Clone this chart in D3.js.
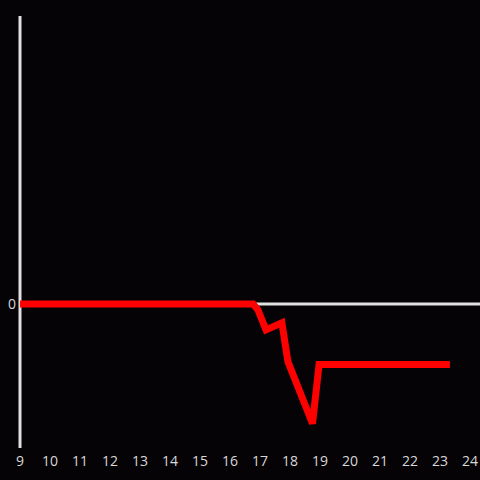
<!DOCTYPE html>
<html>
<head>
<meta charset="utf-8">
<script src="https://cdn.jsdelivr.net/npm/d3@7"></script>
<style>
  body { margin: 0; background: #050306; }
  svg { display: block; }
</style>
</head>
<body>
<div id="chart"></div>
<script>
// values
var xs = [9, 16.77, 16.93, 17.2, 17.73, 17.93, 18.75, 18.97, 23.33];
var ys = [0, 0, -0.04, -0.18, -0.13, -0.4, -0.83, -0.42, -0.42];
var xTicks = [9, 10, 11, 12, 13, 14, 15, 16, 17, 18, 19, 20, 21, 22, 23, 24];
var yTicks = [0];

var svg_dx = 480,
  svg_dy = 480;

var x = d3.scaleLinear().domain([9, 24]).range([20, 470]),
  y = d3.scaleLinear().domain([-1, 2]).range([448, 16]);

var svg = d3.select("#chart")
  .append("svg")
  .attr("width", svg_dx)
  .attr("height", svg_dy)
  .style("background", "#050306");

// zero line
svg.append("line")
  .attr("x1", x(9))
  .attr("x2", svg_dx)
  .attr("y1", y(0))
  .attr("y2", y(0))
  .attr("stroke", "#e0e0e0")
  .attr("stroke-width", 3);

// y axis line
svg.append("line")
  .attr("x1", x(9))
  .attr("x2", x(9))
  .attr("y1", y(2))
  .attr("y2", y(-1))
  .attr("stroke", "#e0e0e0")
  .attr("stroke-width", 3);

var pts = xs.map(function(d, i) { return [d, ys[i]]; });

var line = d3.line()
  .x(function(d) { return x(d[0]); })
  .y(function(d) { return y(d[1]); });

svg.append("path")
  .datum(pts)
  .attr("d", line)
  .attr("fill", "none")
  .attr("stroke", "#ff0000")
  .attr("stroke-width", 7)
  .attr("stroke-linejoin", "miter");

// tick labels
svg.append("g")
  .selectAll("text")
  .data(xTicks)
  .enter()
  .append("text")
  .attr("x", function(d) { return x(d); })
  .attr("y", 466)
  .attr("text-anchor", "middle")
  .attr("fill", "#d8d8d8")
  .style("font-family", "'Open Sans', sans-serif")
  .style("font-size", "14px")
  .text(function(d) { return d; });

svg.append("g")
  .selectAll("text")
  .data(yTicks)
  .enter()
  .append("text")
  .attr("x", 16)
  .attr("y", function(d) { return y(d) + 5; })
  .attr("text-anchor", "end")
  .attr("fill", "#d8d8d8")
  .style("font-family", "'Open Sans', sans-serif")
  .style("font-size", "14px")
  .text(function(d) { return d; });
</script>
</body>
</html>
